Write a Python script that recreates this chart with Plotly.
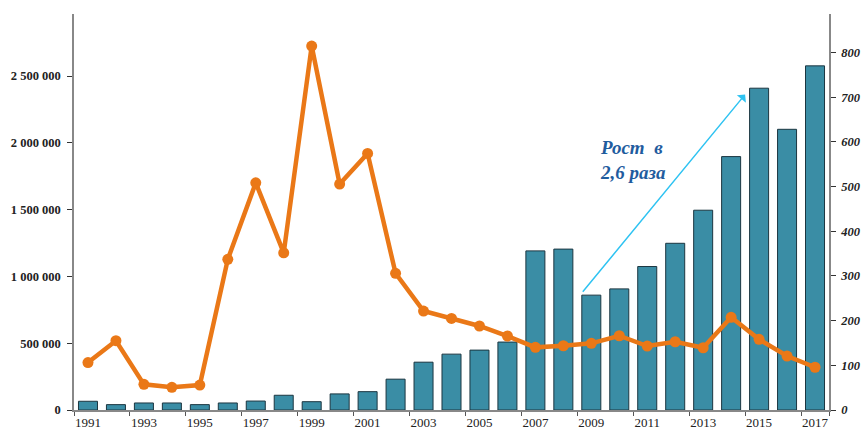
import plotly.graph_objects as go

years = [str(y) for y in range(1991, 2018)]

# bars (right axis, 0..800)
bar_values = [19.5, 12, 15.7, 15.7, 12, 15.7, 20, 33, 18.6, 36, 41, 69, 107, 125,
              134, 152, 356, 360, 257, 271, 321, 373, 447, 567, 720, 628, 770]

# line (left axis, 0..2 500 000)
line_values = [355000, 519000, 192000, 170000, 187000, 1128000, 1701000, 1177000,
               2725000, 1692000, 1921000, 1023000, 741000, 686000, 629000, 554000,
               469000, 481000, 499000, 556000, 479000, 511000, 466000, 694000,
               529000, 404000, 320000]

x_tick_labels = years[::2]
left_ticks = [0, 500000, 1000000, 1500000, 2000000, 2500000]
right_ticks = [0, 100, 200, 300, 400, 500, 600, 700, 800]

annotation_text = "Рост\u00a0\u00a0в<br>2,6 раза"

serif = "Liberation Serif, Times New Roman, serif"

fig = go.Figure()
fig.add_trace(go.Bar(
    x=years, y=bar_values, yaxis="y",
    marker=dict(color="#3A8DA5", line=dict(color="#1C3640", width=1)),
    showlegend=False,
))
fig.add_trace(go.Scatter(
    x=years, y=line_values, yaxis="y2", mode="lines+markers",
    line=dict(color="#EA7817", width=4.5),
    marker=dict(color="#EA7817", size=11),
    showlegend=False,
))

fig.update_layout(
    width=862, height=432,
    margin=dict(l=74, r=33, t=14, b=22, autoexpand=False),
    paper_bgcolor="white", plot_bgcolor="white",
    bargap=0.32,
    separators=", ",
    xaxis=dict(
        type="category", range=[-0.5, 26.5],
        tickmode="array", tickvals=x_tick_labels, ticktext=x_tick_labels,
        tickangle=0,
        tickson="boundaries", ticks="outside", ticklen=4, tickcolor="#555",
        showline=True, linecolor="#888", linewidth=1.5,
        showgrid=False, zeroline=False,
        tickfont=dict(family=serif, size=13, color="#222"),
    ),
    yaxis=dict(
        side="right", range=[0, 886],
        tickmode="array", tickvals=right_ticks,
        ticks="outside", ticklen=5, tickcolor="#333", ticklabelstandoff=3,
        showline=True, linecolor="#888", linewidth=1.5,
        showgrid=False, zeroline=False,
        tickfont=dict(family=serif, size=12.5, color="#222", weight="bold", style="italic"),
    ),
    yaxis2=dict(
        overlaying="y", side="left", range=[0, 2965000],
        tickmode="array", tickvals=left_ticks, tickformat=",d",
        ticks="outside", ticklen=5, tickcolor="#333", ticklabelstandoff=4,
        showline=True, linecolor="#888", linewidth=1.5,
        showgrid=False, zeroline=False,
        tickfont=dict(family=serif, size=12.5, color="#222", weight="bold"),
    ),
    annotations=[
        dict(
            x=23.5, y=706, xref="x", yref="y",
            ax=17.65, ay=261, axref="x", ayref="y",
            showarrow=True, arrowhead=1, arrowsize=1.3, arrowwidth=1.5,
            arrowcolor="#2EC3F2", text="",
        ),
        dict(
            x=0.694, y=0.631, xref="paper", yref="paper",
            xanchor="left", yanchor="middle", align="left",
            showarrow=False, text=annotation_text,
            font=dict(family=serif, size=19, color="#1F5C9E", weight="bold", style="italic"),
        ),
    ],
)

fig.write_html("out.html", config={"displayModeBar": False},
               post_script="document.body.style.margin='0';")
